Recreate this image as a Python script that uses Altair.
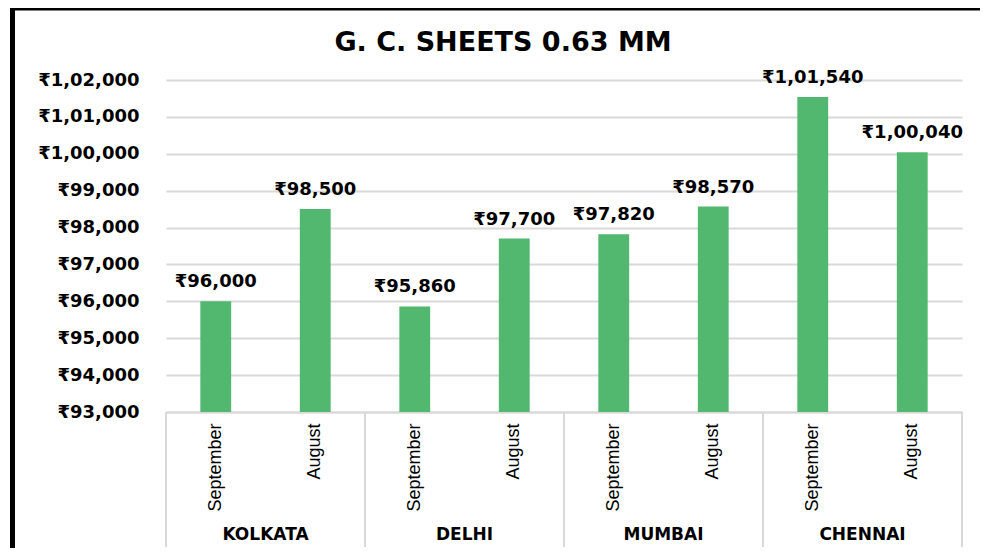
import altair as alt
import pandas as pd

TITLE = "G. C. SHEETS 0.63 MM"
CITIES = ["KOLKATA", "DELHI", "MUMBAI", "CHENNAI"]
MONTHS = ["September", "August"]
SEPTEMBER = [96000, 95860, 97820, 101540]
AUGUST = [98500, 97700, 98570, 100040]
Y_MIN, Y_MAX, Y_STEP = 93000, 102000, 1000


def inr(v):
    s = str(int(v))
    last3, rest = s[-3:], s[:-3]
    parts = []
    while len(rest) > 2:
        parts.insert(0, rest[-2:])
        rest = rest[:-2]
    if rest:
        parts.insert(0, rest)
    return "₹" + ",".join(parts + [last3])


rows = []
for i, city in enumerate(CITIES):
    for month, val in zip(MONTHS, (SEPTEMBER[i], AUGUST[i])):
        rows.append({"city": city, "month": month, "key": f"{city}|{month}",
                     "value": val, "label": inr(val)})
df = pd.DataFrame(rows)
keys = list(df["key"])

W, H = 796, 332
STEP = W / len(keys)
GRID = "#d9d9d9"
BOLD_FONT = "DejaVu Sans"

y_label_expr = (
    "'₹' + (datum.value >= 100000 ? floor(datum.value/100000) + ',' + "
    "slice('0' + floor((datum.value % 100000)/1000), -2) : floor(datum.value/1000)) "
    "+ ',' + slice('00' + (datum.value % 1000), -3)"
)

x_enc = alt.X(
    "key:N", sort=keys,
    scale=alt.Scale(paddingInner=0.69, paddingOuter=0.345),
    axis=alt.Axis(title=None, labelExpr="split(datum.label, '|')[1]",
                  labelAngle=270, labelAlign="right", labelBaseline="middle",
                  labelFont="Liberation Sans", labelFontSize=18, labelColor="#000",
                  labelPadding=11, ticks=False, domainColor=GRID, domainWidth=2,
                  labelOverlap=False),
)
y_enc = alt.Y(
    "value:Q",
    scale=alt.Scale(domain=[Y_MIN, Y_MAX], zero=False, nice=False),
    axis=alt.Axis(title=None, values=list(range(Y_MIN, Y_MAX + 1, Y_STEP)),
                  labelExpr=y_label_expr, labelFont=BOLD_FONT, labelFontWeight="bold",
                  labelFontSize=18, labelColor="#000", labelPadding=27,
                  labelOverlap=False, labelBound=False, labelFlush=False,
                  ticks=False, domain=False, grid=True, gridColor=GRID, gridWidth=2),
)

base = alt.Chart(df)
one = alt.Data(values=[{"title": TITLE}])

bars = base.mark_bar(color="#53B86F").encode(x=x_enc, y=y_enc, y2=alt.datum(Y_MIN))

values = base.mark_text(baseline="alphabetic", dy=-14, font=BOLD_FONT,
                        fontWeight="bold", fontSize=18, color="#000").encode(
    x=x_enc, y=y_enc, text="label:N")

city_text = base.transform_filter(alt.datum.month == "September").mark_text(
    xOffset=STEP / 2, font=BOLD_FONT, fontWeight="bold", fontSize=17,
    color="#000", baseline="middle").encode(
    x=x_enc, y=alt.value(H + 123), text="city:N")

sep_left = base.transform_filter(alt.datum.month == "September").mark_rule(
    xOffset=-STEP / 2, color=GRID, strokeWidth=2).encode(
    x=x_enc, y=alt.value(H), y2=alt.value(H + 135))

sep_right = base.transform_filter(alt.datum.month == "August").mark_rule(
    xOffset=STEP / 2, color=GRID, strokeWidth=2).encode(
    x=x_enc, y=alt.value(H), y2=alt.value(H + 135))

title = alt.Chart(one).mark_text(font=BOLD_FONT, fontWeight="bold", fontSize=27,
                                 color="#000", baseline="alphabetic", align="center").encode(
    x=alt.value(W / 2 - 61), y=alt.value(-29), text="title:N")

frame_left = alt.Chart(one).mark_rule(color="#000", strokeWidth=5).encode(
    x=alt.value(-153.5), y=alt.value(-74), y2=alt.value(H + 140))
frame_top = alt.Chart(one).mark_rule(color="#000", strokeWidth=3).encode(
    x=alt.value(-156), x2=alt.value(W + 20), y=alt.value(-71))

chart = alt.layer(bars, values, city_text, sep_left, sep_right, title,
                  frame_left, frame_top).properties(
    width=W, height=H,
    autosize=alt.AutoSizeParams(type="none"),
    padding={"left": 158, "top": 72, "right": 18, "bottom": 136},
    background="white",
).configure_view(stroke=None)

chart.save("out.html", embed_options={"renderer": "svg", "actions": False})
